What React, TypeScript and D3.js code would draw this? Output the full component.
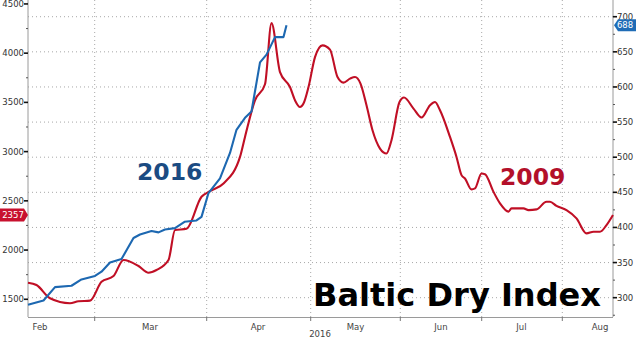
import React from "react";
import * as d3 from "d3";

// ---- data (x in trading-day index, values per series) ----
const days2016 = [0, 3.1, 5.4, 8.7, 10.7, 13.4, 14.7, 16.4, 18.7, 21.1, 22.4, 24.7, 26.1, 27.4, 29.4, 31.3, 33.7, 34.7, 36.1, 38.4, 40.4, 41.7, 43.4, 44.7, 46.4, 47.7, 49.4, 51.1, 51.7];
const values2016 = [290, 296, 315, 317, 326, 331, 337, 350, 355, 385, 390, 395, 393, 397, 399, 408, 410, 415, 449, 470, 506, 539, 556, 565, 635, 646, 671, 671, 688];

const days2009 = [0, 1.7, 4.4, 8.4, 10.1, 12.4, 14.7, 17.1, 19.1, 22.1, 24.1, 25.7, 28.1, 29.4, 31.7, 34.7, 36.4, 39.1, 42.4, 43.4, 45.4, 47.4, 48.7, 50.4, 52.4, 53.4, 54.4, 55.1, 56.1, 57.4, 58.9, 60.4, 61.9, 63.1, 64.4, 65.4, 66.5, 67.7, 68.9, 70.4, 71.7, 72.7, 74.3, 75.2, 77.1, 78.7, 80.4, 81.4, 82.4, 84.4, 85.7, 86.7, 87.4, 88.7, 89.4, 90.7, 91.4, 93.1, 94.4, 96.1, 96.7, 99.1, 100.1, 101.7, 103.7, 104.4, 105.7, 107.7, 109.7, 111.7, 113.1, 114.4, 115.7, 117];
const values2009 = [1668, 1645, 1510, 1459, 1480, 1486, 1678, 1736, 1899, 1838, 1770, 1797, 1899, 2203, 2216, 2541, 2598, 2676, 2946, 3149, 3521, 3684, 4305, 3808, 3656, 3521, 3453, 3488, 3656, 3960, 4079, 4036, 3758, 3701, 3741, 3758, 3691, 3471, 3217, 3031, 2981, 3116, 3504, 3549, 3437, 3346, 3471, 3504, 3420, 3149, 2946, 2761, 2727, 2616, 2626, 2778, 2771, 2591, 2474, 2390, 2423, 2423, 2406, 2413, 2490, 2490, 2449, 2406, 2322, 2169, 2186, 2186, 2254, 2357];

const monthTickDays = [13.34, 35.74, 56.54, 74.46, 90.74, 106.86];
const monthLabels = ["Feb", "Mar", "Apr", "May", "Jun", "Jul", "Aug"];
const monthLabelDays = [2.4, 24.4, 46.0, 65.5, 82.6, 98.7, 114.4];

const leftTicks = [1500, 2000, 2500, 3000, 3500, 4000, 4500];
const leftMinor = [1750, 2250, 2750, 3250, 3750, 4250];
const rightTicks = [300, 350, 400, 450, 500, 550, 600, 650, 700];
const rightMinor = [275, 325, 375, 425, 475, 525, 575, 625, 675, 725];

const last2016 = "688";
const last2009 = "2357";

const W = 640, H = 339;
const PL = 28, PR = 613, PB = 317;
const BLUE = "#1d68b1";
const RED = "#c00f25";
const FONT = "DejaVu Sans, Verdana, sans-serif";

export default function App() {
  const x = d3.scaleLinear().domain([0, 117]).range([PL, PR]);
  const yL = d3.scaleLinear().domain([1320, 4540]).range([PB, 0]);
  const yR = d3.scaleLinear().domain([272.5, 723.8]).range([PB, 0]);

  const pts2016: [number, number][] = days2016.map((d, i) => [d, values2016[i]]);
  const pts2009: [number, number][] = days2009.map((d, i) => [d, values2009[i]]);

  const line2016 = d3.line<[number, number]>().x(d => x(d[0])).y(d => yR(d[1]))(pts2016) || "";
  const line2009 = d3.line<[number, number]>().x(d => x(d[0])).y(d => yL(d[1])).curve(d3.curveMonotoneX)(pts2009) || "";

  const tagLY = yL(values2009[values2009.length - 1]);
  const tagRY = yR(values2016[values2016.length - 1]);

  return (
    <svg width={W} height={H} style={{ position: "fixed", left: 0, top: 0, background: "#fff" }} fontFamily={FONT}>
      <rect x={0} y={0} width={W} height={H} fill="#fff" />
      {/* horizontal grid */}
      {rightTicks.map(t => (
        <line key={"hg" + t} x1={PL} x2={PR} y1={yR(t)} y2={yR(t)} stroke="#a8a8a8" strokeWidth={1} strokeDasharray="1,3" />
      ))}
      {/* vertical grid */}
      {monthTickDays.map(d => (
        <line key={"vg" + d} x1={x(d)} x2={x(d)} y1={0} y2={PB} stroke="#a8a8a8" strokeWidth={1} strokeDasharray="1,3" />
      ))}
      {/* axes */}
      <line x1={PL} x2={PL} y1={0} y2={PB} stroke="#9a9a9a" />
      <line x1={PR} x2={PR} y1={0} y2={PB} stroke="#9a9a9a" />
      <line x1={PL} x2={PR} y1={PB + 0.5} y2={PB + 0.5} stroke="#9a9a9a" />
      {monthTickDays.map(d => (
        <line key={"mt" + d} x1={x(d)} x2={x(d)} y1={PB} y2={PB + 4} stroke="#777" />
      ))}
      {monthLabels.map((m, i) => (
        <text key={m} x={x(monthLabelDays[i])} y={330} fontSize={8.5} fill="#444" textAnchor="middle">{m}</text>
      ))}
      <text x={320} y={337} fontSize={8.5} fill="#444" textAnchor="middle">2016</text>

      {/* left axis */}
      {leftTicks.map(t => (
        <g key={"lt" + t}>
          <line x1={PL - 4} x2={PL} y1={yL(t)} y2={yL(t)} stroke="#111" strokeWidth={1.6} />
          <text x={24} y={yL(t) + 3} fontSize={8.5} fill="#333" textAnchor="end">{t}</text>
        </g>
      ))}
      {leftMinor.map(t => (
        <line key={"lm" + t} x1={PL - 2} x2={PL} y1={yL(t)} y2={yL(t)} stroke="#555" />
      ))}
      {/* right axis */}
      {rightTicks.map(t => (
        <g key={"rt" + t}>
          <line x1={PR} x2={PR + 4} y1={yR(t)} y2={yR(t)} stroke="#111" strokeWidth={1.6} />
          <text x={617} y={yR(t) + 3} fontSize={8.5} fill="#333">{t}</text>
        </g>
      ))}
      {rightMinor.map(t => (
        <line key={"rm" + t} x1={PR} x2={PR + 2} y1={yR(t)} y2={yR(t)} stroke="#555" />
      ))}

      {/* series */}
      <path d={line2009} fill="none" stroke={RED} strokeWidth={2.1} strokeLinejoin="round" />
      <path d={line2016} fill="none" stroke={BLUE} strokeWidth={2.1} strokeLinejoin="round" />

      {/* labels */}
      <text x={137} y={180} fontSize={23.5} fontWeight="bold" fill="#1b4b82">2016</text>
      <text x={500} y={185} fontSize={23.5} fontWeight="bold" fill="#b3102a">2009</text>
      <text x={313} y={306} fontSize={32} fontWeight="bold" fill="#000" textLength={288} lengthAdjust="spacingAndGlyphs">Baltic Dry Index</text>

      {/* value tags */}
      <path d={`M0,${tagLY - 6.5} L24,${tagLY - 6.5} L28,${tagLY} L24,${tagLY + 6.5} L0,${tagLY + 6.5} Z`} fill="#c8102e" />
      <text x={13} y={tagLY + 3.2} fontSize={8.5} fill="#fff" textAnchor="middle">{last2009}</text>
      <path d={`M${PR + 1},${tagRY} L${PR + 5},${tagRY - 6} L636,${tagRY - 6} L636,${tagRY + 6} L${PR + 5},${tagRY + 6} Z`} fill="#1f6cb6" />
      <text x={625} y={tagRY + 3.2} fontSize={8.5} fill="#fff" textAnchor="middle">{last2016}</text>
    </svg>
  );
}
